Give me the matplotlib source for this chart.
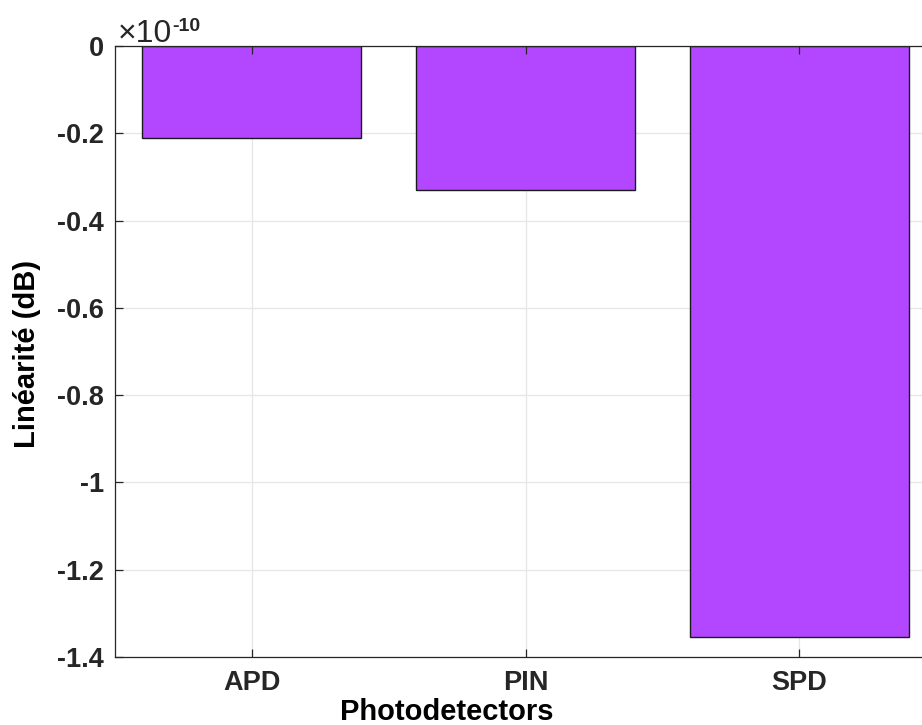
import matplotlib
matplotlib.use("Agg")
import matplotlib.pyplot as plt
import numpy as np

plt.rcParams['font.family'] = ['Liberation Sans', 'DejaVu Sans']
plt.rcParams['axes.unicode_minus'] = False

categories = ["APD", "PIN", "SPD"]
linearity_db = [-0.21e-10, -0.33e-10, -1.355e-10]
scale = 1e-10
yticks = [0, -0.2, -0.4, -0.6, -0.8, -1.0, -1.2, -1.4]

fig = plt.figure(figsize=(9.22, 7.25), dpi=100)
L, R, T, B = 115, 936, 46, 657
ax = fig.add_axes([L/922, 1-B/725, (R-L)/922, (B-T)/725])

x = np.arange(1, len(categories)+1)
vals = np.array(linearity_db) / scale
ax.bar(x, vals, width=0.8, color='#b347ff', edgecolor='#1a1a1a', linewidth=1.0, zorder=1)

ax.set_xlim(0.5, len(categories)+0.5)
ax.set_ylim(-1.4, 0)
ax.set_xticks(x)
ax.set_xticklabels(categories)
ax.set_yticks(yticks)
ax.set_yticklabels(['%g' % t for t in yticks])

for t in yticks:
    ax.axhline(t, color='#e6e6e6', linewidth=0.9, zorder=0.5)
for t in x:
    ax.axvline(t, color='#e6e6e6', linewidth=0.9, zorder=0.5)

ax.tick_params(direction='in', length=6, width=0.9, colors='#262626',
               top=True, right=True, labelsize=19.5)
ax.tick_params(axis='y', pad=8)
ax.tick_params(axis='x', pad=9)
for lbl in ax.get_xticklabels() + ax.get_yticklabels():
    lbl.set_fontweight('bold')
for sp in ax.spines.values():
    sp.set_color('#262626')
    sp.set_linewidth(0.9)
    sp.set_zorder(3)

xl = ax.set_xlabel('Photodetectors', fontsize=21, fontweight='bold', color='black')
ax.xaxis.set_label_coords((447-L)/(R-L), (B-712)/(B-T))
xl.set_va('center')
yl = ax.set_ylabel('Linéarité (dB)', fontsize=21, fontweight='bold', color='black')
ax.yaxis.set_label_coords((27-L)/(R-L), (B-354)/(B-T))
yl.set_va('center')
yl.set_ha('center')

fig.text(118/922, 1-42/725, '×10', fontsize=23, color='#262626', ha='left', va='baseline')
fig.text(172/922, 1-31/725, '-10', fontsize=14, fontweight='bold', color='#262626', ha='left', va='baseline')

fig.savefig('out.png', dpi=100)
